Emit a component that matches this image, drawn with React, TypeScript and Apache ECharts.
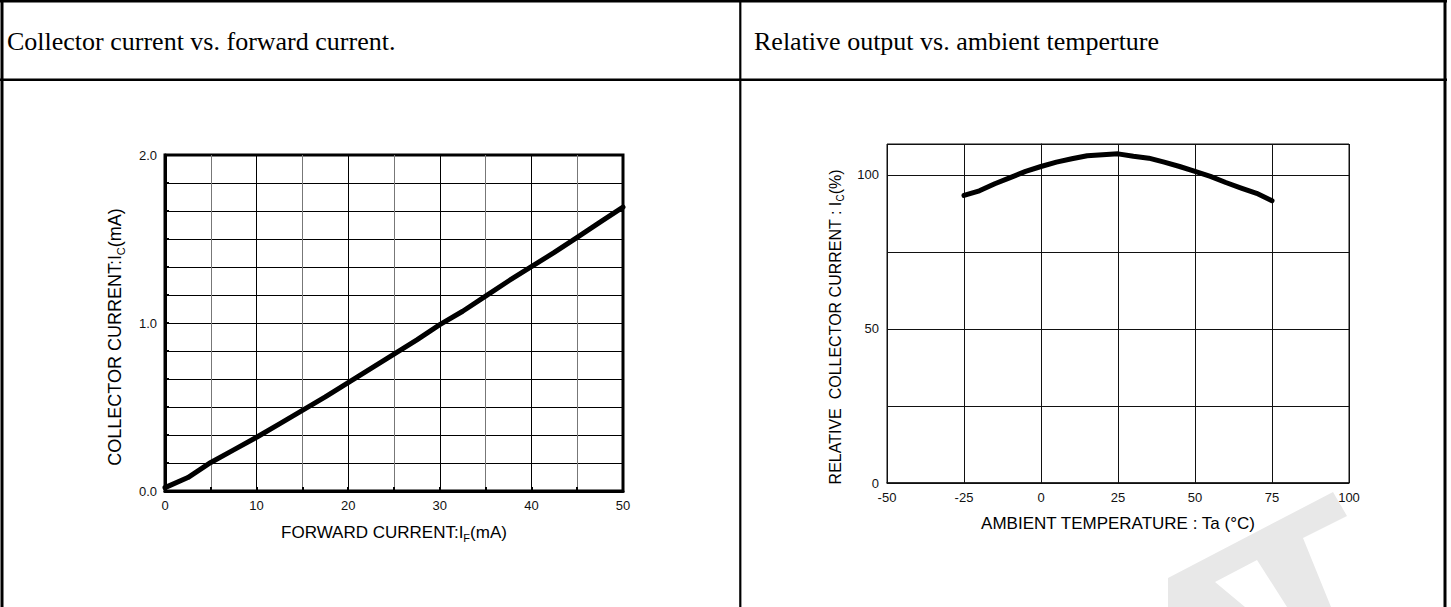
import React, { useEffect, useRef } from "react";
import * as echarts from "echarts";

// ---- data ----
const headerTitles = [
  "Collector current vs. forward current.",
  "Relative output vs. ambient temperture",
];

// Left chart: collector current vs forward current
const forwardCurrent = [0, 2.5, 5, 7.5, 10, 12.5, 15, 17.5, 20, 22.5, 25, 27.5, 30, 32.5, 35, 37.5, 40, 42.5, 45, 47.5, 50];
const collectorCurrent = [0.02, 0.08, 0.17, 0.245, 0.32, 0.4, 0.48, 0.56, 0.645, 0.73, 0.815, 0.9, 0.99, 1.07, 1.16, 1.25, 1.335, 1.42, 1.51, 1.6, 1.69];
const leftXLabels = [0, 10, 20, 30, 40, 50];
const leftYLabels = [0, 1, 2];

// Right chart: relative output vs ambient temperature
const ambientTemp = [-25, -20, -15, -10, -5, 0, 5, 10, 15, 20, 25, 30, 35, 40, 45, 50, 55, 60, 65, 70, 75];
const relativeCurrent = [93.3, 94.8, 97.1, 99.1, 101.1, 102.7, 104.1, 105.2, 106.2, 106.5, 106.8, 106, 105.4, 104.1, 102.7, 101.1, 99.5, 97.5, 95.7, 94, 91.6];
const rightXLabels = [-50, -25, 0, 25, 50, 75, 100];
const rightYLabels = [0, 50, 100];

const SANS = '"Liberation Sans", Arial, sans-serif';
const SERIF = '"Liberation Serif", "Times New Roman", serif';

const makeRich = (size: number) => ({
  n: { fontFamily: SANS, fontSize: size, color: "#000", lineHeight: size + 4 },
  s: { fontFamily: SANS, fontSize: Math.round(size * 0.62), color: "#000", lineHeight: size + 4, verticalAlign: "bottom", padding: [Math.round(size * 0.5), 0, 0, 0] },
});

export default function App() {
  const ref = useRef<HTMLDivElement>(null);

  useEffect(() => {
    if (!ref.current) return;
    const chart = echarts.init(ref.current, null, { renderer: "svg" });

    const option: any = {
      animation: false,
      backgroundColor: "#ffffff",
      grid: [
        { left: 165, top: 155, width: 458, height: 336, show: true, borderColor: "#000", borderWidth: 3, containLabel: false },
        { left: 887, top: 144, width: 462, height: 339, show: true, borderColor: "#111", borderWidth: 1, containLabel: false },
      ],
      xAxis: [
        {
          gridIndex: 0,
          type: "value",
          min: 0,
          max: 50,
          interval: 5,
          name: "{n|FORWARD CURRENT:I}{s|F}{n|(mA)}",
          nameLocation: "middle",
          nameGap: 31,
          nameTextStyle: { rich: makeRich(17) },
          axisLine: { show: true, lineStyle: { color: "#000", width: 3 } },
          axisTick: { show: true, inside: true, length: 4, lineStyle: { color: "#000", width: 2 } },
          axisLabel: {
            margin: 8,
            fontFamily: SANS,
            fontSize: 13,
            color: "#111",
            formatter: (v: number) => (leftXLabels.includes(v) ? String(v) : ""),
          },
          splitLine: { show: true, lineStyle: { color: ["#000", "#777"], width: 1 } },
        },
        {
          gridIndex: 1,
          type: "value",
          min: -50,
          max: 100,
          interval: 25,
          name: "AMBIENT TEMPERATURE : Ta (°C)",
          nameLocation: "middle",
          nameGap: 32,
          nameTextStyle: { fontFamily: SANS, fontSize: 17, color: "#000" },
          axisLine: { show: true, lineStyle: { color: "#111", width: 1.5 } },
          axisTick: { show: false },
          axisLabel: {
            margin: 8,
            fontFamily: SANS,
            fontSize: 13,
            color: "#111",
            formatter: (v: number) => (rightXLabels.includes(v) ? String(v) : ""),
          },
          splitLine: { show: true, lineStyle: { color: "#111", width: 1 } },
        },
      ],
      yAxis: [
        {
          gridIndex: 0,
          type: "value",
          min: 0,
          max: 2,
          interval: 1 / 6,
          name: "{n|COLLECTOR CURRENT:I}{s|C}{n|(mA)}",
          nameLocation: "middle",
          nameGap: 39,
          nameTextStyle: { rich: makeRich(18), padding: [0, 28, 0, 0] },
          axisLine: { show: true, lineStyle: { color: "#000", width: 3 } },
          axisTick: { show: true, inside: true, length: 4, lineStyle: { color: "#000", width: 2 } },
          axisLabel: {
            margin: 8,
            fontFamily: SANS,
            fontSize: 13,
            color: "#111",
            formatter: (v: number) => {
              const r = Math.round(v);
              return Math.abs(v - r) < 1e-6 && leftYLabels.includes(r) ? r.toFixed(1) : "";
            },
          },
          splitLine: { show: true, lineStyle: { color: "#000", width: 1 } },
        },
        {
          gridIndex: 1,
          type: "value",
          min: 0,
          max: 110,
          interval: 25,
          name: "{n|RELATIVE  COLLECTOR CURRENT : I}{s|C}{n|(%)}",
          nameLocation: "middle",
          nameGap: 42,
          nameTextStyle: { rich: makeRich(16), padding: [0, 27, 0, 0] },
          axisLine: { show: true, lineStyle: { color: "#111", width: 1 } },
          axisTick: { show: false },
          axisLabel: {
            margin: 8,
            fontFamily: SANS,
            fontSize: 13,
            color: "#111",
            formatter: (v: number) => (rightYLabels.includes(v) ? String(v) : ""),
          },
          splitLine: { show: true, lineStyle: { color: "#111", width: 1 } },
        },
      ],
      series: [
        {
          type: "line",
          xAxisIndex: 0,
          yAxisIndex: 0,
          data: forwardCurrent.map((x, i) => [x, collectorCurrent[i]]),
          symbol: "none",
          lineStyle: { color: "#000", width: 5, cap: "round", join: "round" },
          z: 5,
        },
        {
          type: "line",
          xAxisIndex: 1,
          yAxisIndex: 1,
          data: ambientTemp.map((x, i) => [x, relativeCurrent[i]]),
          symbol: "none",
          lineStyle: { color: "#000", width: 5, cap: "round", join: "round" },
          z: 5,
        },
      ],
      graphic: [
        // watermark
        {
          type: "polygon",
          z: -10,
          silent: true,
          shape: {
            points: [
              [1168, 607], [1168, 578], [1333, 492], [1347, 516], [1303, 538],
              [1331, 607], [1287, 607], [1257, 560], [1215, 582], [1245, 607],
            ],
          },
          style: { fill: "#e8e8e8" },
        },
        // table lines
        { type: "line", shape: { x1: 0, y1: 1.2, x2: 1447, y2: 1.2 }, style: { stroke: "#000", lineWidth: 2.5 } },
        { type: "line", shape: { x1: 2, y1: 0, x2: 2, y2: 607 }, style: { stroke: "#000", lineWidth: 3 } },
        { type: "line", shape: { x1: 1445, y1: 0, x2: 1445, y2: 607 }, style: { stroke: "#000", lineWidth: 3 } },
        { type: "line", shape: { x1: 0, y1: 79.8, x2: 1447, y2: 79.8 }, style: { stroke: "#000", lineWidth: 2.6 } },
        { type: "line", shape: { x1: 740.3, y1: 0, x2: 740.3, y2: 607 }, style: { stroke: "#000", lineWidth: 2.2 } },
        // header titles
        {
          type: "text",
          x: 7,
          y: 41,
          style: { text: headerTitles[0], fontFamily: SERIF, fontSize: 26, fill: "#000", verticalAlign: "middle" },
        },
        {
          type: "text",
          x: 754,
          y: 41,
          style: { text: headerTitles[1], fontFamily: SERIF, fontSize: 26, fill: "#000", verticalAlign: "middle" },
        },
      ],
    };

    chart.setOption(option);
    return () => chart.dispose();
  }, []);

  return (
    <div
      ref={ref}
      style={{ position: "absolute", left: 0, top: 0, width: 1451, height: 607, background: "#fff" }}
    />
  );
}
